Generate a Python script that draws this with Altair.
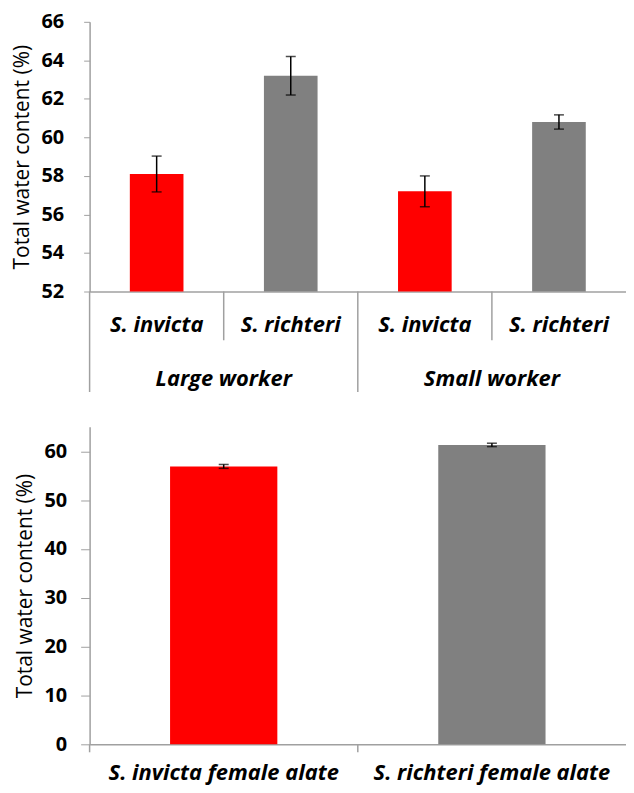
import altair as alt
import pandas as pd

# ---- data ----
groups = ["Large worker", "Large worker", "Small worker", "Small worker"]
species = ["S. invicta", "S. richteri", "S. invicta", "S. richteri"]
worker_values = [58.1, 63.2, 57.2, 60.8]
worker_errors = [0.93, 1.0, 0.8, 0.37]

alate_labels = ["S. invicta female alate", "S. richteri female alate"]
alate_species = ["S. invicta", "S. richteri"]
alate_values = [56.9, 61.3]
alate_errors = [0.4, 0.35]

species_domain = ["S. invicta", "S. richteri"]
species_colors = ["#FF0000", "#808080"]

top_ticks = [52, 54, 56, 58, 60, 62, 64, 66]
bottom_ticks = [0, 10, 20, 30, 40, 50, 60]
y_title = "Total water content (%)"

# ---- layout ----
FONT = "Open Sans"
W = 539
H1 = 271
H2 = 319
GREY = "#A0A0A0"
LBL = dict(font=FONT, fontSize=22, fontWeight="bold", fontStyle="italic", color="black", baseline="middle")

color = alt.Color("species:N", scale=alt.Scale(domain=species_domain, range=species_colors), legend=None)


def y_top(field):
    return alt.Y(field, type="quantitative",
                 scale=alt.Scale(domain=[52, 66], nice=False, zero=False),
                 axis=alt.Axis(values=top_ticks, grid=False, title=y_title,
                               tickSize=6, tickColor=GREY, domainColor=GREY, domainWidth=1.5,
                               labelPadding=20, titlePadding=9, labelOverlap=False))


def y_bottom(field):
    return alt.Y(field, type="quantitative",
                 scale=alt.Scale(domain=[0, 65], nice=False),
                 axis=alt.Axis(values=bottom_ticks, grid=False, title=y_title,
                               tickSize=9, tickColor=GREY, domainColor=GREY, domainWidth=1.5,
                               labelPadding=14, titlePadding=9, labelOverlap=False))


# ---------- top chart ----------
df_w = pd.DataFrame({"group": groups, "species": species, "value": worker_values, "err": worker_errors})
df_w["key"] = df_w["group"] + "|" + df_w["species"]
df_w["lo"] = df_w["value"] - df_w["err"]
df_w["hi"] = df_w["value"] + df_w["err"]
keys = list(df_w["key"])
first_in_group = df_w.groupby("group", sort=False).head(1)
others = df_w.drop(first_in_group.index)

xw = alt.X("key:N", sort=keys, scale=alt.Scale(domain=keys, paddingInner=0, paddingOuter=0),
           axis=alt.Axis(labels=False, ticks=False, title=None, domainColor=GREY, domainWidth=1.5))

base_w = alt.Chart(df_w)
bars_w = base_w.mark_bar(width=alt.RelativeBandSize(0.4)).encode(
    x=xw, y=y_top("value"), y2=alt.datum(52), color=color)
err_w = base_w.mark_rule(color="black", strokeWidth=1.5).encode(
    x=alt.X("key:N", sort=keys), y=y_top("lo"), y2="hi:Q")
cap_lo_w = base_w.mark_tick(color="black", size=10, thickness=1.5).encode(
    x=alt.X("key:N", sort=keys), y=y_top("lo"))
cap_hi_w = base_w.mark_tick(color="black", size=10, thickness=1.5).encode(
    x=alt.X("key:N", sort=keys), y=y_top("hi"))
sp_labels = base_w.mark_text(**LBL).encode(
    x=alt.X("key:N", sort=keys), y=alt.value(H1 + 34), text="species:N")
long_div = alt.Chart(first_in_group).mark_rule(color=GREY, strokeWidth=1.5).encode(
    x=alt.X("key:N", sort=keys, bandPosition=0), y=alt.value(H1), y2=alt.value(H1 + 101))
short_div = alt.Chart(others).mark_rule(color=GREY, strokeWidth=1.5).encode(
    x=alt.X("key:N", sort=keys, bandPosition=0), y=alt.value(H1), y2=alt.value(H1 + 49))
grp_labels = alt.Chart(first_in_group).mark_text(**LBL).encode(
    x=alt.X("key:N", sort=keys, bandPosition=1), y=alt.value(H1 + 88), text="group:N")

top = alt.layer(bars_w, err_w, cap_lo_w, cap_hi_w, sp_labels, long_div, short_div, grp_labels).properties(
    width=W, height=H1)

# ---------- bottom chart ----------
df_a = pd.DataFrame({"label": alate_labels, "species": alate_species, "value": alate_values, "err": alate_errors})
df_a["lo"] = df_a["value"] - df_a["err"]
df_a["hi"] = df_a["value"] + df_a["err"]

xa = alt.X("label:N", sort=alate_labels, scale=alt.Scale(paddingInner=0, paddingOuter=0),
           axis=alt.Axis(labels=False, ticks=False, title=None, domainColor=GREY, domainWidth=1.5))
base_a = alt.Chart(df_a)
bars_a = base_a.mark_bar(width=alt.RelativeBandSize(0.4)).encode(x=xa, y=y_bottom("value"), color=color)
err_a = base_a.mark_rule(color="black", strokeWidth=1.5).encode(
    x=alt.X("label:N", sort=alate_labels), y=y_bottom("lo"), y2="hi:Q")
cap_lo_a = base_a.mark_tick(color="black", size=10, thickness=1.5).encode(
    x=alt.X("label:N", sort=alate_labels), y=y_bottom("lo"))
cap_hi_a = base_a.mark_tick(color="black", size=10, thickness=1.5).encode(
    x=alt.X("label:N", sort=alate_labels), y=y_bottom("hi"))
a_labels = base_a.mark_text(**LBL).encode(
    x=alt.X("label:N", sort=alate_labels), y=alt.value(H2 + 29), text="label:N")
a_div = base_a.mark_rule(color=GREY, strokeWidth=1.5).encode(
    x=alt.X("label:N", sort=alate_labels, bandPosition=0), y=alt.value(H2), y2=alt.value(H2 + 8))

bottom = alt.layer(bars_a, err_a, cap_lo_a, cap_hi_a, a_labels, a_div).properties(width=W, height=H2)

chart = alt.vconcat(top, bottom, spacing=34).properties(
    padding={"left": 3, "top": 2, "right": 0, "bottom": 0},
    background="white"
).configure_view(stroke=None).configure_axis(
    labelFont=FONT, labelFontSize=20, labelFontWeight="bold", labelColor="black",
    titleFont=FONT, titleFontSize=21, titleFontWeight="normal", titleColor="black"
)

chart.save("out.html", embed_options={"renderer": "svg", "actions": False})
